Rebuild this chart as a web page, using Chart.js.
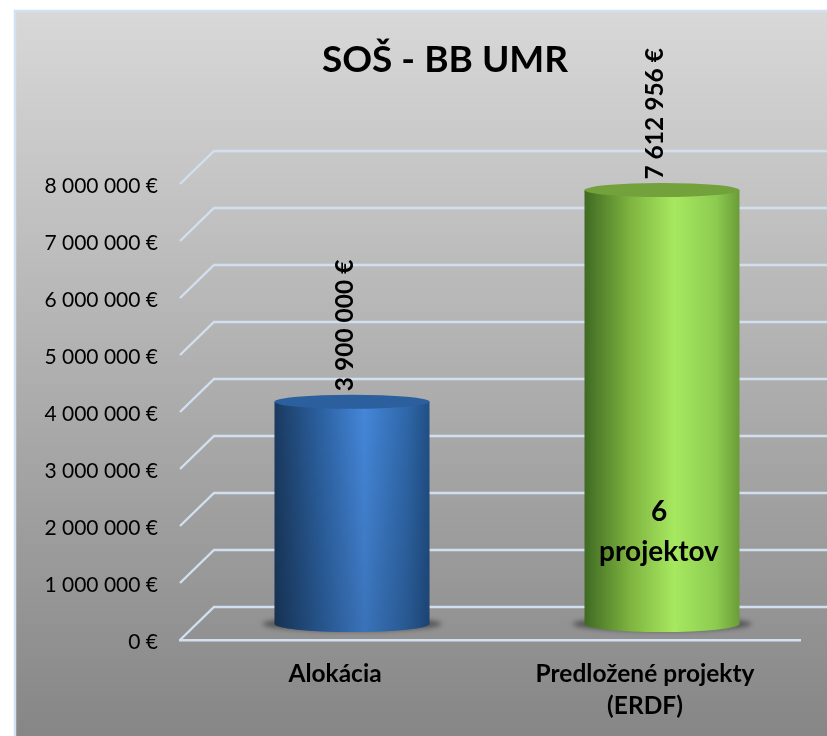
<!DOCTYPE html>
<html>
<head>
<meta charset="utf-8">
<style>
	html, body { margin: 0; padding: 0; background: #fff; overflow: hidden; }
	canvas { display: block; }
</style>
<script src="https://cdn.jsdelivr.net/npm/chart.js@4/dist/chart.umd.js"></script>
</head>
<body>
<canvas id="bar-chart" width="827" height="736"></canvas>
<script>
var chartTitle = 'SOŠ - BB UMR';
var categories = ['Alokácia', ['Predložené projekty', '(ERDF)']];
var values = [3900000, 7612956];
var notes = [null, ['6', 'projektov']];
var yMax = 8000000;
var yStep = 1000000;

var FONT = 'Lato';
var GRID = '#d2dfef';
var DEPTH_X = 34;
var DEPTH_Y = 33;

var stops = [
	[[0, '#1a3a60'], [0.3, '#2c62a2'], [0.58, '#4587da'], [0.85, '#2f68aa'], [1, '#214f86']],
	[[0, '#3f6a22'], [0.3, '#7fb540'], [0.58, '#a7e860'], [0.85, '#8ccb50'], [1, '#6b9c38']]
];
var capColors = ['#2b5f9d', '#73a13c'];
var bottomShade = [0.15, 0];

function money(v)
{
	return String(v).replace(/\B(?=(\d{3})+$)/g, ' ') + ' €';
}

function sideGradient(chart, i)
{
	var x = chart.scales.x;
	var cx = x.getPixelForValue(i);
	var half = x.width / categories.length * 0.25;
	var g = chart.ctx.createLinearGradient(cx - half, 0, cx + half, 0);
	stops[i].forEach(function(s) { g.addColorStop(s[0], s[1]); });
	return g;
}

var decor = {
	id: 'decor',
	afterLayout: function(chart)
	{
		// tick labels get clipped to the scale box, so let it reach further left
		chart.scales.y.left = 20;
	},
	beforeDraw: function(chart)
	{
		var ctx = chart.ctx;
		ctx.save();
		ctx.fillStyle = '#fff';
		ctx.fillRect(0, 0, chart.width, chart.height);
		var g = ctx.createLinearGradient(0, 11, 0, 736);
		g.addColorStop(0, '#d8d8d8');
		g.addColorStop(1, '#868686');
		ctx.fillStyle = g;
		ctx.fillRect(15, 11, chart.width, chart.height);
		ctx.strokeStyle = '#d3e0f2';
		ctx.lineWidth = 2.5;
		ctx.beginPath();
		ctx.moveTo(15, 736);
		ctx.lineTo(15, 11);
		ctx.lineTo(chart.width, 11);
		ctx.stroke();
		ctx.restore();
	},
	beforeDatasetsDraw: function(chart)
	{
		var ctx = chart.ctx;
		var y = chart.scales.y;
		var area = chart.chartArea;

		// back wall lines with the short diagonal to the front tick
		ctx.save();
		ctx.strokeStyle = GRID;
		ctx.lineWidth = 2.4;
		y.ticks.forEach(function(t) {
			var py = y.getPixelForValue(t.value);
			ctx.beginPath();
			ctx.moveTo(area.left, py);
			ctx.lineTo(area.left + DEPTH_X, py - DEPTH_Y);
			ctx.lineTo(area.right + DEPTH_X, py - DEPTH_Y);
			ctx.stroke();
		});
		ctx.restore();

		// bars sit half way into the depth, restored in afterDatasetsDraw
		ctx.save();
		ctx.translate(DEPTH_X / 2, -DEPTH_Y / 2 + 0.5);

		chart.getDatasetMeta(0).data.forEach(function(el, i) {
			ctx.save();
			ctx.filter = 'blur(2.5px)';
			ctx.fillStyle = 'rgba(50,50,50,0.65)';
			ctx.beginPath();
			ctx.ellipse(el.x, el.base, el.width / 2 + 12, 7, 0, 0, Math.PI * 2);
			ctx.fill();
			ctx.restore();

			ctx.fillStyle = sideGradient(chart, i);
			ctx.beginPath();
			ctx.ellipse(el.x, el.base, el.width / 2, 8, 0, 0, Math.PI * 2);
			ctx.fill();
		});
	},
	afterDatasetsDraw: function(chart)
	{
		var ctx = chart.ctx;
		var meta = chart.getDatasetMeta(0);

		meta.data.forEach(function(el, i) {
			if (bottomShade[i])
			{
				var shade = ctx.createLinearGradient(0, el.y, 0, el.base);
				shade.addColorStop(0, 'rgba(0,0,0,0)');
				shade.addColorStop(1, 'rgba(0,0,0,' + bottomShade[i] + ')');
				ctx.fillStyle = shade;
				ctx.beginPath();
				ctx.rect(el.x - el.width / 2, el.y, el.width, el.base - el.y);
				ctx.ellipse(el.x, el.base, el.width / 2, 8, 0, 0, Math.PI);
				ctx.fill();
			}
			ctx.fillStyle = capColors[i];
			ctx.beginPath();
			ctx.ellipse(el.x, el.y, el.width / 2, 7, 0, 0, Math.PI * 2);
			ctx.fill();
		});
		ctx.restore();

		ctx.save();
		ctx.fillStyle = '#000';
		meta.data.forEach(function(el, i) {
			var cx = el.x + DEPTH_X / 2;
			var top = el.y - DEPTH_Y / 2;
			ctx.save();
			ctx.translate(cx - 7, top - 10);
			ctx.rotate(-Math.PI / 2);
			ctx.font = 'bold 24.5px ' + FONT;
			ctx.textAlign = 'left';
			ctx.textBaseline = 'middle';
			ctx.fillText(money(values[i]), 0, 0);
			ctx.restore();

			if (notes[i])
			{
				ctx.font = 'bold 28px ' + FONT;
				ctx.textAlign = 'center';
				ctx.textBaseline = 'middle';
				ctx.fillText(notes[i][0], cx - 3, el.base - DEPTH_Y / 2 - 112);
				ctx.fillText(notes[i][1], cx - 3, el.base - DEPTH_Y / 2 - 71.5);
			}
		});
		ctx.restore();
	}
};

new Chart(document.getElementById('bar-chart'), {
	type: 'bar',
	data: {
		labels: categories,
		datasets: [
			{
				data: values,
				barPercentage: 1,
				categoryPercentage: 0.5,
				clip: false,
				backgroundColor: function(c) {
					// no scales yet on the first pass
					if (!c.chart.chartArea || c.type !== 'data') return capColors[0];
					return sideGradient(c.chart, c.dataIndex);
				}
			}
		]
	},
	plugins: [decor],
	options: {
		responsive: false,
		animation: false,
		layout: { padding: { left: 90, right: 27, top: 0, bottom: 0 } },
		plugins: {
			legend: { display: false },
			tooltip: { enabled: false },
			title: {
				display: true,
				text: chartTitle,
				color: '#000',
				font: { family: FONT, weight: 'bold', size: 37, lineHeight: 1.2 },
				padding: { top: 37.8, bottom: 101.8 }
			}
		},
		scales: {
			x: {
				grid: { display: false, drawTicks: false },
				border: { display: true, color: GRID, width: 2.4 },
				ticks: { color: '#000', padding: 18, maxRotation: 0, font: { family: FONT, weight: 'bold', size: 24.5, lineHeight: 1.3 } },
				afterFit: function(s) { s.height = 96; }
			},
			y: {
				min: 0,
				max: yMax,
				grid: { display: false, drawTicks: false },
				border: { display: false },
				ticks: { stepSize: yStep, color: '#000', padding: 22, labelOffset: 2, font: { family: FONT, size: 21 }, callback: money },
				afterFit: function(s) { s.width = 90; }
			}
		}
	}
});
</script>
</body>
</html>
